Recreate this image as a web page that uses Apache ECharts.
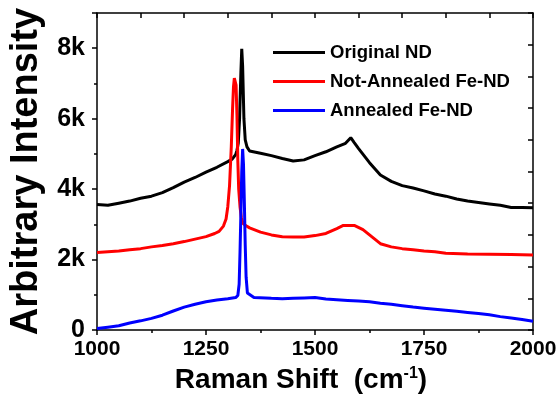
<!DOCTYPE html>
<html>
<head>
<meta charset="utf-8">
<script src="https://cdn.jsdelivr.net/npm/echarts@6/dist/echarts.min.js"></script>
<style>
  html, body { margin: 0; padding: 0; background: #fff; }
  #chart { width: 560px; height: 399px; }
</style>
</head>
<body>
<div id="chart"></div>
<script>
// Raman shift (cm-1) / intensity
const originalX = [1000, 1025, 1050, 1075, 1100, 1125, 1150, 1175, 1200, 1225, 1250, 1275, 1300, 1310, 1318,
  1321, 1324, 1327, 1330, 1332, 1334, 1337, 1340, 1344, 1350, 1375, 1400, 1425, 1450, 1475, 1500, 1525, 1550,
  1570, 1582, 1590, 1600, 1625, 1650, 1675, 1700, 1725, 1750, 1775, 1800, 1825, 1850, 1875, 1900, 1925, 1950, 1975, 2000];
const originalY = [3560, 3540, 3600, 3660, 3740, 3800, 3900, 4040, 4200, 4330, 4480, 4620, 4780, 4850, 4980,
  5100, 5300, 6000, 7300, 7980, 7500, 6000, 5400, 5200, 5080, 5020, 4950, 4870, 4800, 4830, 4950, 5060, 5200,
  5300, 5460, 5320, 5150, 4750, 4400, 4220, 4100, 4030, 3950, 3860, 3800, 3720, 3660, 3620, 3580, 3540, 3480, 3480, 3470];

const notAnnealedX = [1000, 1025, 1050, 1075, 1100, 1125, 1150, 1175, 1200, 1225, 1250, 1270, 1280, 1290, 1296,
  1300, 1304, 1308, 1311, 1313, 1315, 1317, 1319, 1321, 1323, 1325, 1328, 1331, 1335, 1342, 1350, 1375, 1400, 1425,
  1450, 1475, 1500, 1525, 1550, 1565, 1590, 1610, 1625, 1650, 1675, 1700, 1725, 1750, 1775, 1800, 1850, 1900, 1950, 2000];
const notAnnealedY = [2200, 2220, 2240, 2280, 2310, 2360, 2400, 2450, 2510, 2580, 2650, 2740, 2800, 2950, 3150,
  3500, 4100, 5200, 6300, 6900, 7150, 7170, 6950, 6100, 4800, 4000, 3500, 3200, 3020, 2960, 2900, 2780, 2700, 2650,
  2640, 2640, 2680, 2740, 2880, 2970, 2970, 2850, 2700, 2450, 2360, 2310, 2280, 2240, 2220, 2180, 2160, 2150, 2140, 2130];

const annealedX = [1000, 1025, 1050, 1075, 1100, 1125, 1150, 1175, 1200, 1225, 1250, 1275, 1300, 1318, 1323,
  1326, 1328, 1330, 1332, 1334, 1336, 1338, 1340, 1342, 1345, 1360, 1400, 1425, 1450, 1475, 1500, 1525, 1550,
  1575, 1600, 1625, 1650, 1675, 1700, 1725, 1750, 1775, 1800, 1825, 1850, 1875, 1900, 1925, 1950, 1975, 2000];
const annealedY = [40, 80, 120, 200, 260, 330, 420, 540, 650, 730, 800, 850, 890, 920, 980,
  1300, 2200, 3300, 4500, 5140, 4700, 3600, 2400, 1500, 1050, 920, 900, 890, 900, 910, 920, 880, 860,
  840, 820, 800, 760, 730, 690, 650, 620, 590, 560, 530, 500, 470, 430, 380, 340, 300, 250];

const seriesNames = ['Original ND', 'Not-Annealed Fe-ND', 'Annealed Fe-ND'];
const seriesColors = ['#000000', '#ff0000', '#0000ff'];

function zip(xs, ys) {
  return xs.map((x, i) => [x, ys[i]]);
}

const font = "'Liberation Sans', Arial, sans-serif";
const axisLine = {show: true, onZero: false, lineStyle: {color: '#000', width: 1.5}};

let chart = echarts.init(document.getElementById('chart'));
chart.setOption({
  animation: false,
  color: seriesColors,
  grid: {left: 96, right: 27, top: 13, bottom: 64},
  legend: {
    data: seriesNames,
    orient: 'vertical',
    left: 273,
    top: 43,
    padding: 0,
    icon: 'rect',
    itemWidth: 52,
    itemHeight: 3,
    itemGap: 10,
    textStyle: {fontFamily: font, fontWeight: 'bold', fontSize: 18.5, color: '#000'}
  },
  xAxis: [
    {
      type: 'value',
      position: 'bottom',
      min: 1000,
      max: 2000,
      interval: 250,
      axisLine: axisLine,
      axisTick: {show: true, inside: false, length: 5, lineStyle: {width: 1.5, color: '#000'}},
      minorTick: {show: true, splitNumber: 2, length: 3, lineStyle: {width: 1.5, color: '#000'}},
      splitLine: {show: false},
      axisLabel: {
        margin: 9, fontFamily: font, fontWeight: 'bold', fontSize: 21, color: '#000',
        formatter: v => String(v)
      },
      name: '{a|Raman Shift  (cm}{b|-1}{a|)}',
      nameLocation: 'middle',
      nameGap: 36,
      nameTextStyle: {
        padding: [0, 28, 0, 0],
        rich: {
          a: {fontFamily: font, fontWeight: 'bold', fontSize: 28, color: '#000'},
          b: {fontFamily: font, fontWeight: 'bold', fontSize: 16, color: '#000', padding: [0, 0, 12, 0]}
        }
      }
    },
    {
      type: 'value',
      position: 'top',
      min: 1000,
      max: 2000,
      interval: 100,
      axisLine: axisLine,
      axisTick: {show: true, inside: true, length: 5, lineStyle: {width: 1.5, color: '#000'}},
      axisLabel: {show: false},
      splitLine: {show: false}
    }
  ],
  yAxis: [
    {
      type: 'value',
      position: 'left',
      min: 0,
      max: 9000,
      interval: 2000,
      axisLine: axisLine,
      axisTick: {show: true, inside: false, length: 5, lineStyle: {width: 1.5, color: '#000'}},
      minorTick: {show: true, splitNumber: 2, length: 3, lineStyle: {width: 1.5, color: '#000'}},
      splitLine: {show: false},
      axisLabel: {
        margin: 12,
        showMaxLabel: false,
        fontFamily: font, fontWeight: 'bold', fontSize: 25, color: '#000',
        formatter: v => v === 0 ? '0' : (v / 1000) + 'k'
      },
      name: 'Arbitrary Intensity',
      nameLocation: 'middle',
      nameGap: 51,
      nameTextStyle: {fontFamily: font, fontWeight: 'bold', fontSize: 38, color: '#000'}
    },
    {
      type: 'value',
      position: 'right',
      min: 0,
      max: 10,
      interval: 1,
      axisLine: axisLine,
      axisTick: {show: true, inside: true, length: 5, lineStyle: {width: 1.5, color: '#000'}},
      axisLabel: {show: false},
      splitLine: {show: false}
    }
  ],
  series: [
    {
      name: seriesNames[0],
      type: 'line',
      showSymbol: false,
      lineStyle: {width: 3},
      data: zip(originalX, originalY)
    },
    {
      name: seriesNames[1],
      type: 'line',
      showSymbol: false,
      lineStyle: {width: 3},
      data: zip(notAnnealedX, notAnnealedY)
    },
    {
      name: seriesNames[2],
      type: 'line',
      showSymbol: false,
      lineStyle: {width: 3},
      data: zip(annealedX, annealedY)
    }
  ]
});
</script>
</body>
</html>
